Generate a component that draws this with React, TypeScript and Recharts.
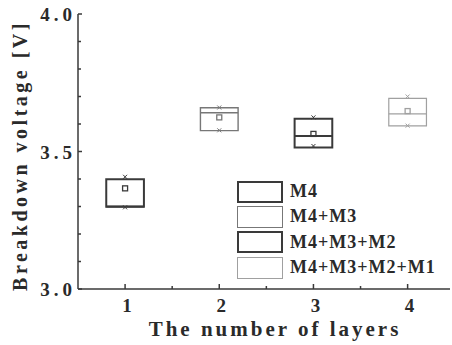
import React from 'react';
import {
  ComposedChart, XAxis, YAxis, ReferenceArea, ReferenceLine, Scatter,
} from 'recharts';

const layers = [1, 2, 3, 4];
const q1 = [3.299, 3.576, 3.515, 3.593];
const q3 = [3.399, 3.659, 3.619, 3.693];
const medians = [3.3, 3.641, 3.556, 3.637];
const means = [3.366, 3.624, 3.564, 3.647];
const maxs = [3.408, 3.66, 3.624, 3.7];
const mins = [3.297, 3.577, 3.52, 3.594];
const seriesNames = ['M4', 'M4+M3', 'M4+M3+M2', 'M4+M3+M2+M1'];
const xTicks = [1, 1.5, 2, 2.5, 3, 3.5, 4];
const yTicks = [3.0, 3.1, 3.2, 3.3, 3.4, 3.5, 3.6, 3.7, 3.8, 3.9, 4.0];
const yLabels = [3.0, 3.5, 4.0];

const colors = ['#3a3a3a', '#777777', '#3a3a3a', '#a0a0a0'];
const widths = [2, 1.4, 2, 1.2];
const HALF = 0.2;
const AXIS = '#3a3a3a';
const FONT = '"Liberation Serif", "Times New Roman", serif';

const rows = layers.map((x, i) => ({ x, mean: means[i], max: maxs[i], min: mins[i] }));

const BottomTick = ({ x, y, payload }: any) => {
  const major = Number.isInteger(payload.value);
  return (
    <g>
      <line x1={x} x2={x} y1={y} y2={y - (major ? 5 : 3)} stroke={AXIS} strokeWidth={1.5} />
      {major && (
        <text x={x + 2} y={y + 23} textAnchor="middle" fontFamily={FONT} fontWeight="bold"
          fontSize={19} fill="#2a2a2a">{payload.value}</text>
      )}
    </g>
  );
};

const TopTick = ({ x, y, payload }: any) => {
  const major = Number.isInteger(payload.value);
  return <line x1={x} x2={x} y1={y} y2={y + (major ? 5 : 3)} stroke={AXIS} strokeWidth={1.5} />;
};

const LeftTick = ({ x, y, payload }: any) => {
  const lbl = yLabels.some((v) => Math.abs(v - payload.value) < 1e-6);
  return (
    <g>
      <line x1={x} x2={x + (lbl ? 4 : 3)} y1={y} y2={y} stroke={AXIS} strokeWidth={1.5} />
      {lbl && (
        <text x={x - 2} y={y + 7} textAnchor="end" fontFamily={FONT} fontWeight="bold"
          fontSize={19} letterSpacing={4} fill="#2a2a2a">{payload.value.toFixed(1)}</text>
      )}
    </g>
  );
};

const RightTick = ({ x, y }: any) => (
  <line x1={x} x2={x - 3} y1={y} y2={y} stroke={AXIS} strokeWidth={1.5} />
);

const MeanMark = (color: string) => ({ cx, cy }: any) => (
  <rect x={cx - 2.5} y={cy - 2.5} width={5} height={5} fill="none" stroke={color} strokeWidth={1.3} />
);

// small x markers sitting on the box edges
const CapMark = ({ cx, cy, payload }: any) => {
  const c = colors[payload.x - 1];
  return (
    <g stroke={c} strokeWidth={1}>
      <line x1={cx - 2} x2={cx + 2} y1={cy - 2} y2={cy + 2} />
      <line x1={cx - 2} x2={cx + 2} y1={cy + 2} y2={cy - 2} />
    </g>
  );
};

export default function App() {
  return (
    <div style={{ position: 'relative', width: 452, height: 345, background: '#fff' }}>
      <style>{'body{margin:0}'}</style>
      <ComposedChart width={452} height={345} data={rows}
        margin={{ top: 14, right: 2, bottom: 0, left: 0 }}>
        <XAxis dataKey="x" type="number" domain={[0.5, 4.45]} ticks={xTicks}
          allowDataOverflow height={56} tickSize={0} tickMargin={0} tickLine={false}
          axisLine={{ stroke: AXIS, strokeWidth: 1.5 }} tick={BottomTick} interval={0}
          label={{
            content: ({ viewBox }: any) => (
              <text x={viewBox.x + viewBox.width / 2 + 11} y={viewBox.y + 47} textAnchor="middle"
                fontFamily={FONT} fontWeight="bold" fontSize={21} letterSpacing={3}
                fill="#2a2a2a">The number of layers</text>
            ),
          }} />
        <XAxis xAxisId="t" orientation="top" dataKey="x" type="number" domain={[0.5, 4.45]}
          ticks={xTicks} allowDataOverflow height={0} tickSize={0} tickMargin={0} tickLine={false}
          axisLine={{ stroke: AXIS, strokeWidth: 1.5 }} tick={TopTick} interval={0} />
        <YAxis type="number" domain={[3, 4]} ticks={yTicks} width={78} tickSize={0}
          tickMargin={0} tickLine={false} allowDataOverflow interval={0}
          axisLine={{ stroke: AXIS, strokeWidth: 1.5 }} tick={LeftTick}
          label={{
            content: ({ viewBox }: any) => {
              const cx = 20;
              const cy = viewBox.y + viewBox.height / 2 + 4;
              return (
                <text x={cx} y={cy} transform={`rotate(-90 ${cx} ${cy})`} textAnchor="middle"
                  dominantBaseline="central" fontFamily={FONT} fontWeight="bold" fontSize={20}
                  letterSpacing={3.5} fill="#2a2a2a">Breakdown voltage [V]</text>
              );
            },
          }} />
        <YAxis yAxisId="r" orientation="right" type="number" domain={[3, 4]} ticks={yTicks}
          width={0} tickSize={0} tickMargin={0} tickLine={false} allowDataOverflow interval={0}
          axisLine={{ stroke: AXIS, strokeWidth: 1.5 }} tick={RightTick} />

        {layers.map((x, i) => (
          <ReferenceArea key={`box${x}`} x1={x - HALF} x2={x + HALF} y1={q1[i]} y2={q3[i]}
            fill="none" fillOpacity={0} stroke={colors[i]} strokeWidth={widths[i]} strokeOpacity={1} />
        ))}
        {layers.map((x, i) => (
          <ReferenceLine key={`med${x}`} segment={[{ x: x - HALF, y: medians[i] }, { x: x + HALF, y: medians[i] }]}
            stroke={colors[i]} strokeWidth={widths[i]} />
        ))}
        {layers.map((x, i) => (
          <Scatter key={`mean${x}`} data={[rows[i]]} dataKey="mean" isAnimationActive={false}
            shape={MeanMark(colors[i])} />
        ))}
        <Scatter dataKey="max" isAnimationActive={false} shape={CapMark} />
        <Scatter dataKey="min" isAnimationActive={false} shape={CapMark} />
      </ComposedChart>

      <div style={{ position: 'absolute', left: 237, top: 179, fontFamily: FONT }}>
        {seriesNames.map((name, i) => (
          <div key={name} style={{ display: 'flex', alignItems: 'center', height: 25.3 }}>
            <div style={{
              width: 46, height: 22, boxSizing: 'border-box',
              border: `${i % 2 === 0 ? 2.5 : 1.5}px solid ${colors[i]}`,
            }} />
            <span style={{
              marginLeft: 7, fontSize: 18, fontWeight: 'bold', letterSpacing: 1,
              color: '#2a2a2a', whiteSpace: 'nowrap',
            }}>{name}</span>
          </div>
        ))}
      </div>
    </div>
  );
}
